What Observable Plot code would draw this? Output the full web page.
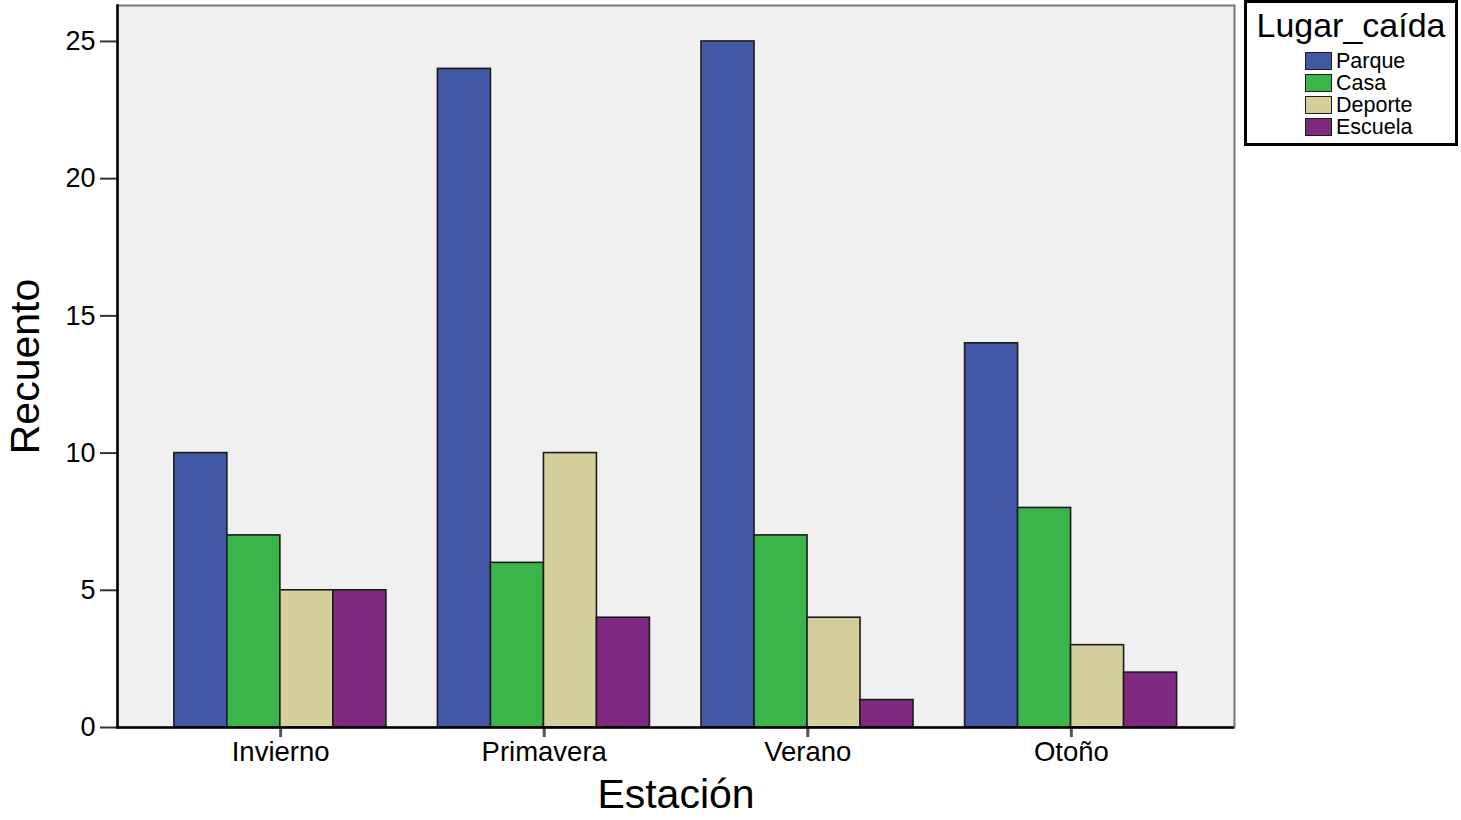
<!DOCTYPE html>
<html>
<head>
<meta charset="utf-8">
<script src="https://cdn.jsdelivr.net/npm/d3@7"></script>
<script src="https://cdn.jsdelivr.net/npm/@observablehq/plot@0.6"></script>
<style>
  html, body { margin: 0; padding: 0; background: #fff; }
  #wrap { position: relative; width: 1461px; height: 820px; font-family: "Liberation Sans", Arial, Helvetica, sans-serif; }
  #base, #bars { position: absolute; left: 0; top: 0; }
  #legend { position: absolute; left: 1244px; top: 0px; width: 208px; height: 140px; border: 3px solid #000; background: #fff; }
  #legend .title { font-size: 34px; text-align: center; margin-top: 3px; line-height: 38px; margin-bottom: 6px; }
  #legend .item { display: flex; align-items: center; margin-left: 58px; height: 22px; font-size: 21.5px; line-height: 22px; }
  #legend .sw { width: 27px; height: 18px; border: 1.5px solid #1b1b1b; margin-right: 4px; box-sizing: border-box; }
  svg text { fill: #000; }
  g[aria-label="y-axis label"] text, g[aria-label="x-axis label"] text { font-size: 41px; }
</style>
</head>
<body>
<div id="wrap">
  <div id="base"></div>
  <div id="bars"></div>
  <div id="legend"></div>
</div>
<script>
const stations = ["Invierno", "Primavera", "Verano", "Otoño"];
const places = ["Parque", "Casa", "Deporte", "Escuela"];
const parque  = [10, 24, 25, 14];
const casa    = [7, 6, 7, 8];
const deporte = [5, 10, 4, 3];
const escuela = [5, 4, 1, 2];
const colors = ["#4257a5", "#3bb54a", "#d5cf9c", "#7f2a80"];
const yTicks = [0, 5, 10, 15, 20, 25];
const yMax = 26.31;

const series = [parque, casa, deporte, escuela];
const data = [];
stations.forEach((s, i) => places.forEach((p, j) => data.push({station: s, place: p, count: series[j][i]})));

const common = {
  width: 1461,
  height: 820,
  marginLeft: 117,
  marginRight: 227,
  marginTop: 5,
  marginBottom: 93,
  style: {fontFamily: '"Liberation Sans", Arial, Helvetica, sans-serif', color: "#000", background: "transparent"}
};
const stationBand = {type: "band", domain: stations, paddingInner: 0.186, paddingOuter: 0.212, round: false};

// Base layer: plot area, axes and titles
const base = Plot.plot({
  ...common,
  x: {...stationBand, label: null},
  y: {domain: [0, yMax], label: null},
  marks: [
    Plot.frame({fill: "#f0f0f0", stroke: "#777", strokeWidth: 2}),
    Plot.axisY({ticks: yTicks, tickSize: 17, tickPadding: 5, fontSize: 27, strokeWidth: 2, stroke: "#333",
      label: "Recuento", labelAnchor: "center", labelArrow: "none", labelOffset: 108}),
    Plot.axisX({tickSize: 10, tickPadding: 4, fontSize: 27.5, strokeWidth: 3, stroke: "#555",
      label: "Estación", labelAnchor: "center", labelArrow: "none", labelOffset: 80})
  ]
});
document.getElementById("base").appendChild(base);

// Bar layer: grouped bars faceted by season, same band geometry
const bars = Plot.plot({
  ...common,
  fx: {...stationBand, axis: null, label: null},
  x: {domain: places, axis: null, padding: 0},
  y: {domain: [0, yMax], axis: null, label: null},
  color: {domain: places, range: colors},
  marks: [
    Plot.barY(data, {fx: "station", x: "place", y: "count", fill: "place", stroke: "#1b1b1b", strokeWidth: 1.6})
  ]
});
document.getElementById("bars").appendChild(bars);

// Axis lines on top of the bars (left and bottom edges of the plot area)
const edges = Plot.plot({
  ...common,
  x: {...stationBand, axis: null},
  y: {domain: [0, yMax], axis: null},
  marks: [
    Plot.ruleY([0], {stroke: "#000", strokeWidth: 2.5}),
    Plot.frame({anchor: "left", stroke: "#000", strokeWidth: 2.5})
  ]
});
edges.style.position = "absolute";
edges.style.left = "0px";
edges.style.top = "0px";
document.getElementById("wrap").insertBefore(edges, document.getElementById("legend"));

const legend = document.getElementById("legend");
const t = document.createElement("div");
t.className = "title";
t.textContent = "Lugar_caída";
legend.appendChild(t);
places.forEach((p, i) => {
  const row = document.createElement("div");
  row.className = "item";
  const sw = document.createElement("div");
  sw.className = "sw";
  sw.style.background = colors[i];
  row.appendChild(sw);
  const lab = document.createElement("span");
  lab.textContent = p;
  row.appendChild(lab);
  legend.appendChild(row);
});
</script>
</body>
</html>
